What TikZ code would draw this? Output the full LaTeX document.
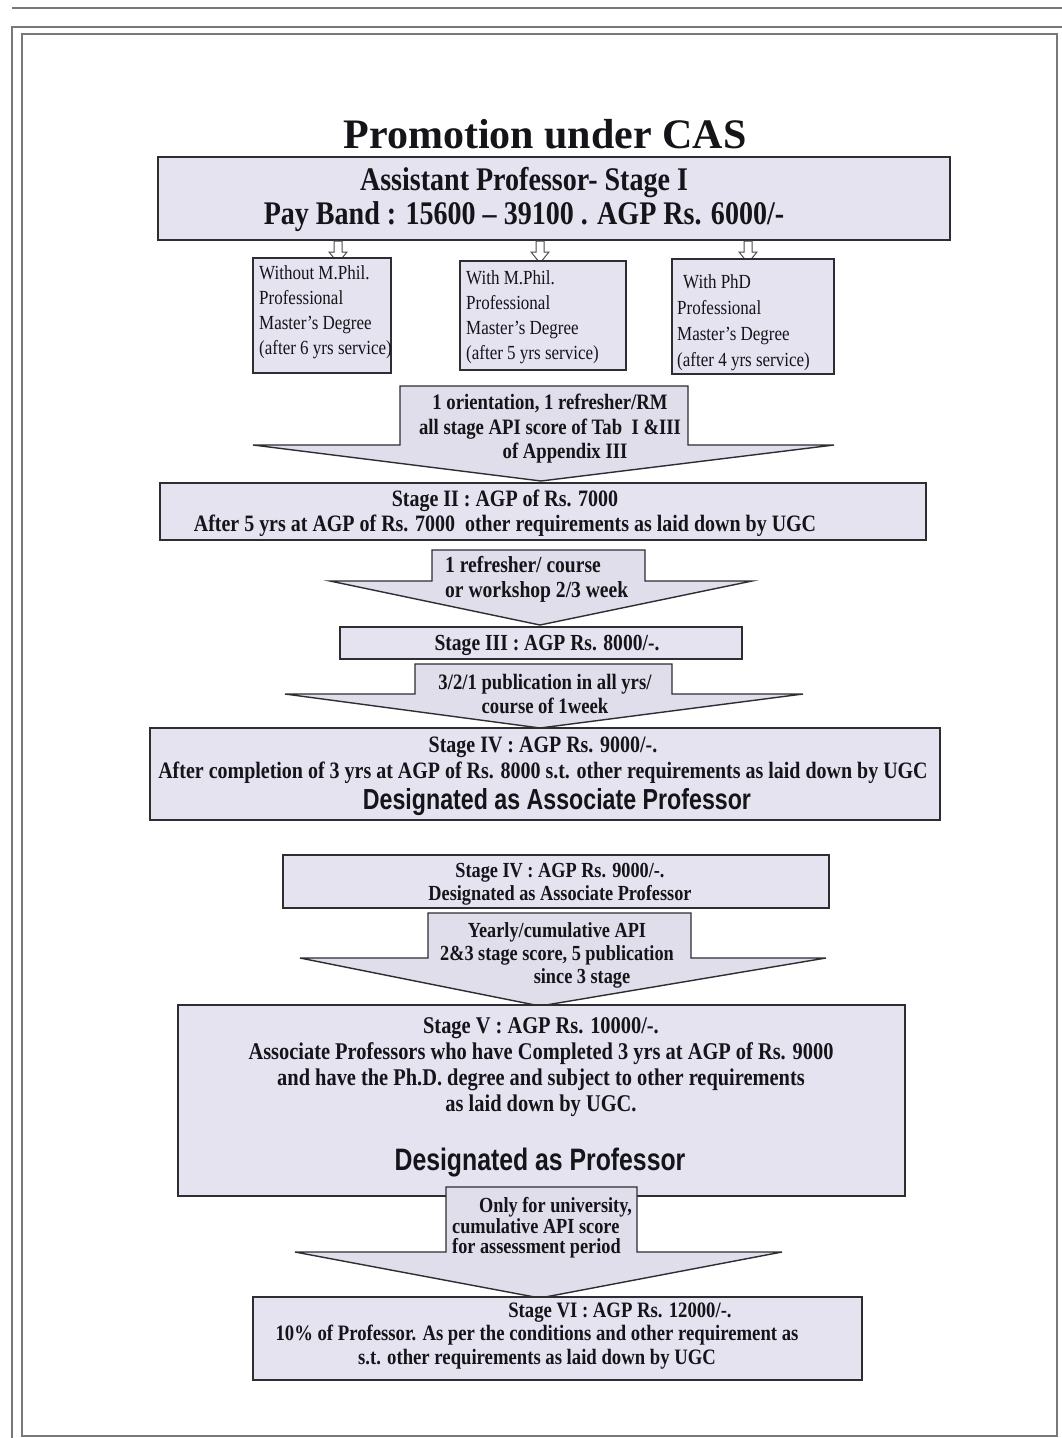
\documentclass[tikz,border=0pt]{standalone}
\usepackage{fontspec}
\setmainfont{Liberation Serif}
\newfontfamily\bodyf[FakeStretch=0.85,Ligatures=TeX]{Liberation Serif}
\newfontfamily\desf[FakeStretch=0.8]{Liberation Sans}
\definecolor{boxfill}{RGB}{229,227,240}
\definecolor{arrowfill}{RGB}{224,222,234}
\definecolor{boxline}{RGB}{45,45,50}
\definecolor{framecol}{RGB}{120,120,120}
\definecolor{textcol}{RGB}{20,20,25}
\newcommand\bigarr[8]{\draw[barrow] (#1,#3) -- (#2,#3) -- (#2,#4) -- (#6,#4) -- (#7,#8) -- (#5,#4) -- (#1,#4) -- cycle;}
\begin{document}
\begin{tikzpicture}[x=1pt,y=-1pt,
  box/.style={draw=boxline, fill=boxfill, line width=1.6pt, rectangle, inner sep=0pt},
  sbox/.style={draw=boxline, fill=boxfill, line width=1.2pt, rectangle, inner sep=0pt},
  barrow/.style={draw=boxline, fill=arrowfill, line width=1.4pt, line join=miter},
  harrow/.style={draw=boxline!85, fill=white, line width=1pt},
  framel/.style={draw=framecol, line width=1.3pt},
  txt/.style={text=textcol, inner sep=0pt, align=center, font=\bodyf\bfseries\fontsize{23}{25}\selectfont},
  stxt/.style={text=textcol, inner sep=0pt, align=left, font=\bodyf\fontsize{20}{25}\selectfont},
  dtxt/.style={text=textcol, inner sep=0pt, font=\desf\bfseries\fontsize{29}{32}\selectfont}]
\useasboundingbox (0,0) rectangle (1062,1438);
\fill[white] (0,0) rectangle (1062,1438);
% frame
\draw[framel] (12,8) -- (1062,8);
\draw[framel] (12,1438) -- (12,27) -- (1062,27);
\draw[framel] (22,34) rectangle (1057,1436);
% title
\node[text=textcol, inner sep=0pt, font=\bfseries\fontsize{42}{46}\selectfont, anchor=base] (title) at (545,148) {Promotion under CAS};
% stage I box
\node[box, minimum width=792pt, minimum height=83pt] (b1) at (554,198.5) {};
\node[txt, font=\bodyf\bfseries\fontsize{33}{34}\selectfont] (t1) at (524,199) {Assistant Professor- Stage I\\Pay Band : 15600 – 39100 . AGP Rs. 6000/-};
% small hollow arrows
\foreach \xx in {338,540,748}
  \draw[harrow] (\xx-4,241) -- (\xx+4,241) -- (\xx+4,252) -- (\xx+9,252) -- (\xx,263) -- (\xx-9,252) -- (\xx-4,252) -- cycle;
% three qualification boxes
\node[sbox, minimum width=138pt, minimum height=115pt] (bA) at (322,315.5) {};
\node[sbox, minimum width=166pt, minimum height=109pt] (bB) at (543,315.5) {};
\node[sbox, minimum width=162pt, minimum height=115pt] (bC) at (753,316.5) {};
\node[stxt, anchor=west] (tA) at (259,312.5) {Without M.Phil.\\Professional\\Master's Degree\\(after 6 yrs service)};
\node[stxt, anchor=west] (tB) at (466,317.5) {With M.Phil.\\Professional\\Master's Degree\\(after 5 yrs service)};
\node[stxt, anchor=west, font=\bodyf\fontsize{20}{26}\selectfont] (tC) at (677,322.5) {\hspace*{6pt}With PhD\\Professional\\Master's Degree\\(after 4 yrs service)};
% arrow 1
\bigarr{400}{688}{386}{445}{253}{834}{541}{481}
\node[txt, font=\bodyf\bfseries\fontsize{22}{24.5}\selectfont] (a1) at (550,429) {1 orientation, 1 refresher/RM\\all stage API score of Tab\ \ I \&III\\\hspace*{30pt}of Appendix III};
% stage II
\node[box, minimum width=766pt, minimum height=57pt] (s2) at (543,511.5) {};
\node[txt, font=\bodyf\bfseries\fontsize{23.5}{25}\selectfont] (ts2) at (505,513) {Stage II : AGP of Rs. 7000\\After 5 yrs at AGP of Rs. 7000\ \ other requirements as laid down by UGC};
% arrow 2
\bigarr{432}{645}{550}{581}{330}{752}{540}{625}
\node[txt, align=left, anchor=west] (a2) at (445,579) {1 refresher/ course\\or workshop 2/3 week};
% stage III
\node[box, minimum width=402pt, minimum height=32pt] (s3) at (541,643) {};
\node[txt] (ts3) at (547,645) {Stage III : AGP Rs. 8000/-.};
% arrow 3
\bigarr{415}{672}{664}{694}{285}{803}{540}{728}
\node[txt, font=\bodyf\bfseries\fontsize{22}{24}\selectfont] (a3) at (545,694) {3/2/1 publication in all yrs/\\course of 1week};
% stage IV
\node[box, minimum width=790pt, minimum height=92pt] (s4) at (545,774) {};
\node[txt, font=\bodyf\bfseries\fontsize{23.5}{26}\selectfont] (ts4) at (543,760) {Stage IV : AGP Rs. 9000/-.\\After completion of 3 yrs at AGP of Rs. 8000 s.t. other requirements as laid down by UGC};
\node[dtxt] (ds4) at (557,802) {Designated as Associate Professor};
% stage IV repeated
\node[box, minimum width=546pt, minimum height=53pt] (s4b) at (556,881.5) {};
\node[txt, font=\bodyf\bfseries\fontsize{21.5}{23}\selectfont] (ts4b) at (560,884) {Stage IV : AGP Rs. 9000/-.\\Designated as Associate Professor};
% arrow 4
\bigarr{428}{691}{913}{958}{300}{826}{540}{1006}
\node[txt, font=\bodyf\bfseries\fontsize{21.5}{23}\selectfont] (a4) at (557,955) {Yearly/cumulative API\\2\&3 stage score, 5 publication\\\hspace*{50pt}since 3 stage};
% stage V
\node[box, minimum width=727pt, minimum height=191pt] (s5) at (541.5,1100.5) {};
\node[txt, font=\bodyf\bfseries\fontsize{24}{26}\selectfont] (ts5) at (541,1067) {Stage V : AGP Rs. 10000/-.\\Associate Professors who have Completed 3 yrs at AGP of Rs. 9000\\and have the Ph.D. degree and subject to other requirements\\as laid down by UGC.};
\node[dtxt, font=\desf\bfseries\fontsize{31}{34}\selectfont] (ds5) at (540,1163) {Designated as Professor};
% arrow 5
\bigarr{446}{637}{1187}{1252}{295}{782}{540}{1298}
\node[txt, align=left, anchor=west, font=\bodyf\bfseries\fontsize{21.5}{20.5}\selectfont] (a5) at (452,1228) {\hspace*{27pt}Only for university,\\cumulative API score\\for assessment period};
% stage VI
\node[box, minimum width=609pt, minimum height=83pt] (s6) at (557.5,1338.5) {};
\node[txt, font=\bodyf\bfseries\fontsize{22}{23.5}\selectfont] (ts6) at (537,1336) {\hspace*{166pt}Stage VI : AGP Rs. 12000/-.\\10\% of Professor. As per the conditions and other requirement as\\s.t. other requirements as laid down by UGC};
\end{tikzpicture}
\end{document}
